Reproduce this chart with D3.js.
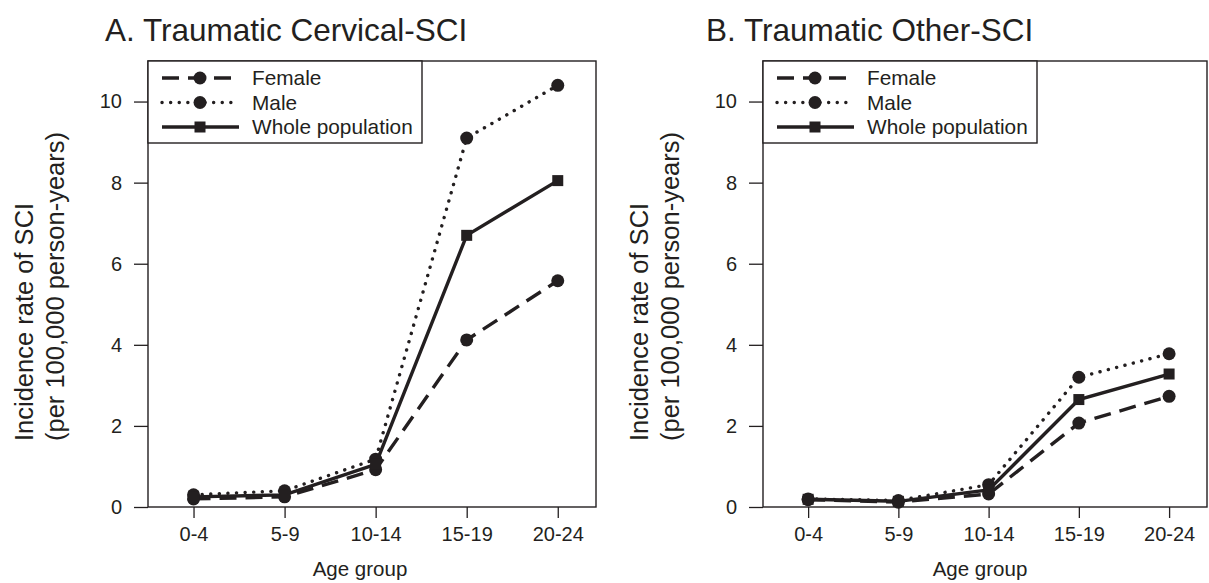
<!DOCTYPE html>
<html><head><meta charset="utf-8">
<script src="https://cdn.jsdelivr.net/npm/d3@7"></script>
<style>
html,body{margin:0;padding:0;background:#fff;}
svg{display:block;}
text{font-family:"Liberation Sans",Arial,Helvetica,sans-serif;fill:#231f20;}
</style></head>
<body>
<svg id="chart" width="1209" height="583"></svg>
<script>
const categories = ["0-4","5-9","10-14","15-19","20-24"];
const yTicks = [0,2,4,6,8,10];
const seriesNames = ["Female","Male","Whole population"];

const cervicalFemale = [0.20, 0.25, 0.92, 4.12, 5.58];
const cervicalMale   = [0.30, 0.40, 1.18, 9.10, 10.40];
const cervicalWhole  = [0.25, 0.30, 1.05, 6.70, 8.05];

const otherFemale = [0.18, 0.12, 0.32, 2.07, 2.73];
const otherMale   = [0.20, 0.16, 0.55, 3.20, 3.78];
const otherWhole  = [0.19, 0.14, 0.42, 2.65, 3.28];

const titles = ["A. Traumatic Cervical-SCI", "B. Traumatic Other-SCI"];
const yLabel1 = "Incidence rate of SCI";
const yLabel2 = "(per 100,000 person-years)";
const xLabel = "Age group";

const ink = "#231f20";
const styles = {
  "Female": {dash:"17,9", cap:"butt", marker:"circle"},
  "Male": {dash:"0.1,8.5", cap:"round", marker:"circle"},
  "Whole population": {dash:null, cap:"butt", marker:"square"}
};

const svg = d3.select("#chart");

function drawPanel(p) {
  const g = svg.append("g");
  const x = d3.scaleLinear().domain([0.5, 5.42]).range([p.left, p.right]);
  const y = d3.scaleLinear().domain([0, 11]).range([p.bottom, p.top]);

  g.append("text").attr("x", p.titleX).attr("y", 41)
    .attr("font-size", 31.5).text(p.title);

  const ya = g.append("g").attr("transform", `translate(${p.left},0)`)
    .call(d3.axisLeft(y).tickValues(yTicks).tickSize(14).tickPadding(12).tickFormat(d3.format("d")));
  ya.select(".domain").remove();
  ya.selectAll("line").attr("stroke", ink).attr("stroke-width", 1.3);
  ya.selectAll("text").attr("font-size", 20).attr("fill", ink).attr("font-family", null);

  const xa = g.append("g").attr("transform", `translate(0,${p.bottom})`)
    .call(d3.axisBottom(x).tickValues([1,2,3,4,5]).tickSize(11).tickPadding(9)
      .tickFormat((d) => categories[d-1]));
  xa.select(".domain").remove();
  xa.selectAll("line").attr("stroke", ink).attr("stroke-width", 1.3);
  xa.selectAll("text").attr("font-size", 20).attr("fill", ink).attr("font-family", null);

  g.append("rect").attr("x", p.left).attr("y", p.top)
    .attr("width", p.right - p.left).attr("height", p.bottom - p.top)
    .attr("fill", "none").attr("stroke", ink).attr("stroke-width", 1.4);

  g.append("text").attr("x", p.xLabelX).attr("y", 576).attr("text-anchor", "middle")
    .attr("font-size", 20.5).text(xLabel);
  g.append("text").attr("transform", `translate(${p.yLabX1},441) rotate(-90)`)
    .attr("text-anchor", "start").attr("font-size", 25.5).text(yLabel1);
  g.append("text").attr("transform", `translate(${p.yLabX2},441) rotate(-90)`)
    .attr("text-anchor", "start").attr("font-size", 25.5).text(yLabel2);

  const line = d3.line().x((d, i) => x(i + 1)).y((d) => y(d));
  p.series.forEach((vals, si) => {
    const st = styles[seriesNames[si]];
    g.append("path").datum(vals).attr("d", line)
      .attr("fill", "none").attr("stroke", ink).attr("stroke-width", 3.4)
      .attr("stroke-dasharray", st.dash).attr("stroke-linecap", st.cap);
  });
  p.series.forEach((vals, si) => {
    const st = styles[seriesNames[si]];
    vals.forEach((v, i) => {
      if (st.marker === "circle") {
        g.append("circle").attr("cx", x(i + 1)).attr("cy", y(v)).attr("r", 6.5).attr("fill", ink);
      } else {
        g.append("rect").attr("x", x(i + 1) - 5.5).attr("y", y(v) - 5.5)
          .attr("width", 11).attr("height", 11).attr("fill", ink);
      }
    });
  });

  const lx = p.left, ly = p.top;
  const lg = g.append("g");
  lg.append("rect").attr("x", lx).attr("y", ly).attr("width", 274).attr("height", 82)
    .attr("fill", "#fff").attr("stroke", ink).attr("stroke-width", 1.4);
  seriesNames.forEach((name, i) => {
    const st = styles[name];
    const ry = ly + 17 + i * 24.5;
    lg.append("line").attr("x1", lx + 14).attr("x2", lx + 91).attr("y1", ry).attr("y2", ry)
      .attr("stroke", ink).attr("stroke-width", 3.4)
      .attr("stroke-dasharray", st.dash).attr("stroke-linecap", st.cap);
    if (st.marker === "circle") {
      lg.append("circle").attr("cx", lx + 52).attr("cy", ry).attr("r", 6.5).attr("fill", ink);
    } else {
      lg.append("rect").attr("x", lx + 52 - 5.5).attr("y", ry - 5.5).attr("width", 11).attr("height", 11).attr("fill", ink);
    }
    lg.append("text").attr("x", lx + 104).attr("y", ry + 7).attr("font-size", 20.8).text(name);
  });
}

drawPanel({left:148, right:596, top:61, bottom:507, title:titles[0], titleX:105,
  xLabelX:360, yLabX1:33, yLabX2:64,
  series:[cervicalFemale, cervicalMale, cervicalWhole]});
drawPanel({left:763, right:1207, top:61, bottom:507, title:titles[1], titleX:706,
  xLabelX:980, yLabX1:648, yLabX2:679,
  series:[otherFemale, otherMale, otherWhole]});
</script>
</body></html>
